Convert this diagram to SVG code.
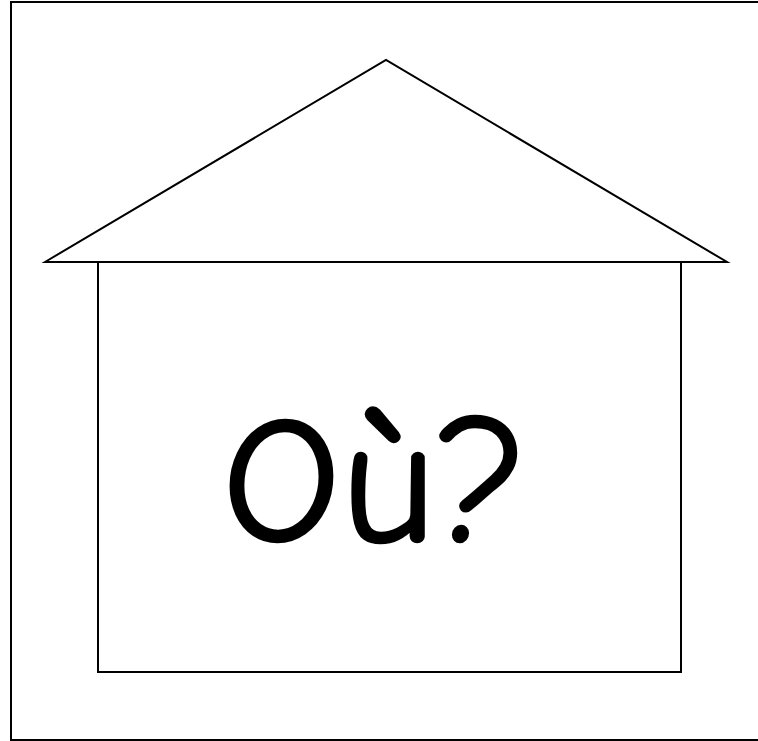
<svg xmlns="http://www.w3.org/2000/svg" width="758" height="741" viewBox="0 0 758 741">
<style>
.ln{fill:#fff;stroke:#000;stroke-width:2}
.t{font-family:"Comic Sans MS","Comic Neue","DejaVu Sans",sans-serif;font-size:178px;fill:#000;stroke:#000;stroke-width:2.5;stroke-linejoin:round}
</style>
<rect width="758" height="741" fill="#fff"/>
<rect x="11" y="2" width="760" height="738" fill="none" stroke="#000" stroke-width="2"/>
<g id="house">
<rect class="ln" x="98" y="262" width="583" height="410"/>
<polygon class="ln" points="45,262 386,60 727,262"/>
<text class="t" x="222" y="541" textLength="306" lengthAdjust="spacingAndGlyphs">Où?</text>
</g>
</svg>
